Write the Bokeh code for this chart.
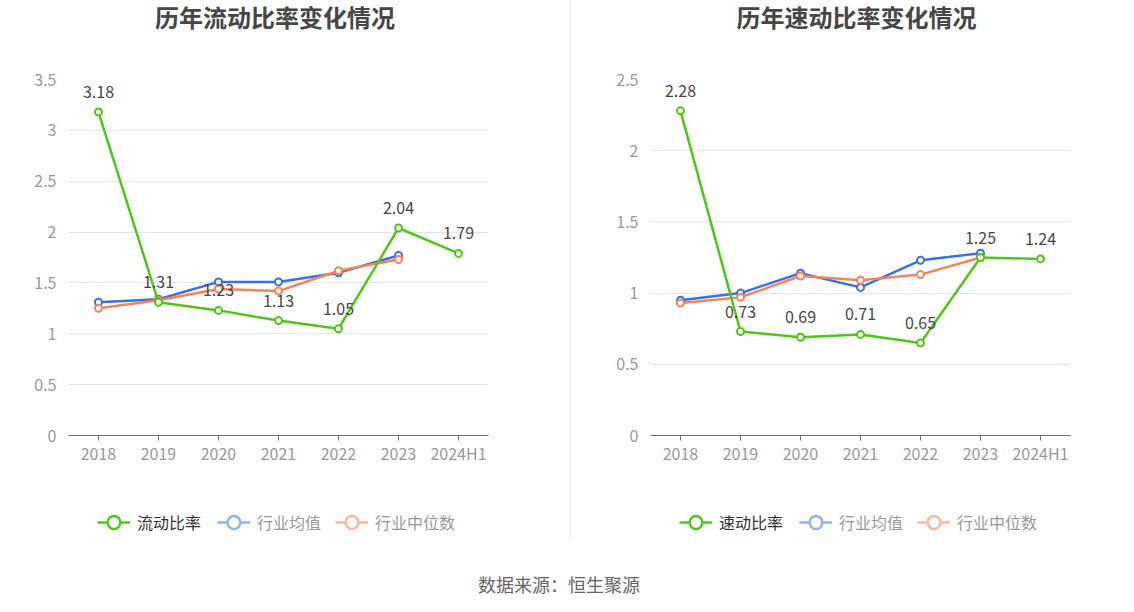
from bokeh.plotting import figure
from bokeh.models import (ColumnDataSource, FactorRange, Range1d, SingleIntervalTicker,
                          CustomJSTickFormatter, LabelSet, Legend, LegendItem, Div)
from bokeh.core.properties import value
from bokeh.layouts import row, column
from bokeh.embed import file_html
from bokeh.resources import INLINE

years = ["2018", "2019", "2020", "2021", "2022", "2023", "2024H1"]
years_ind = ["2018", "2019", "2020", "2021", "2022", "2023"]

current_ratio = [3.18, 1.31, 1.23, 1.13, 1.05, 2.04, 1.79]
current_ind_avg = [1.31, 1.34, 1.51, 1.51, 1.60, 1.77]
current_ind_med = [1.25, 1.33, 1.44, 1.42, 1.62, 1.73]

quick_ratio = [2.28, 0.73, 0.69, 0.71, 0.65, 1.25, 1.24]
quick_ind_avg = [0.95, 1.00, 1.14, 1.04, 1.23, 1.28]
quick_ind_med = [0.93, 0.97, 1.12, 1.09, 1.13, 1.25]

titles = ["历年流动比率变化情况", "历年速动比率变化情况"]
series_names = [["流动比率", "行业均值", "行业中位数"], ["速动比率", "行业均值", "行业中位数"]]
y_max = [3.5, 2.5]
footer_text = "数据来源：恒生聚源"

GREEN = "#52c41a"
BLUE = "#3b6fe2"
ORANGE = "#f5845a"
BLUE_LIGHT = "#92b2f2"
ORANGE_LIGHT = "#fab8a0"
FONT = "Noto Sans CJK SC"


def legend_style(**kw):
    base = dict(orientation="horizontal", glyph_width=33, glyph_height=32, label_standoff=7,
                spacing=14, padding=0, margin=0, border_line_color=None,
                background_fill_alpha=0, label_text_font=FONT, label_text_font_size="16px")
    base.update(kw)
    return base


def make_panel(title, names, main, avg, med, ymax, width, border_left, border_right,
               title_shift):
    title_div = Div(text=title, width=width, height=60, margin=(0, 0, 0, 0),
                    styles={"text-align": "center", "font-size": "24px", "font-weight": "bold",
                            "color": "#464646", "font-family": FONT, "line-height": "30px",
                            "position": "relative", "left": f"{title_shift}px", "top": "2px"})

    p = figure(x_range=FactorRange(*years, range_padding=0), y_range=Range1d(0, ymax),
               width=width, height=410, output_backend="svg", toolbar_location=None,
               min_border_left=border_left, min_border_right=border_right,
               min_border_top=19, min_border_bottom=35)
    p.outline_line_color = None
    p.background_fill_color = "white"
    p.border_fill_color = "white"

    p.xgrid.grid_line_color = None
    p.ygrid.grid_line_color = "#e0e6f1"
    p.ygrid.grid_line_width = 1

    p.yaxis.ticker = SingleIntervalTicker(interval=0.5)
    p.yaxis.formatter = CustomJSTickFormatter(code="return Number(tick.toFixed(2)).toString();")
    p.yaxis.axis_line_color = None
    p.yaxis.major_tick_line_color = None
    p.yaxis.minor_tick_line_color = None
    p.yaxis.major_label_text_color = "#999999"
    p.yaxis.major_label_text_font = FONT
    p.yaxis.major_label_text_font_size = "16px"
    p.yaxis.major_label_standoff = 6

    p.xaxis.axis_line_color = "#6e7079"
    p.xaxis.major_tick_line_color = "#6e7079"
    p.xaxis.major_tick_out = 5
    p.xaxis.major_tick_in = 0
    p.xaxis.minor_tick_line_color = None
    p.xaxis.major_label_text_color = "#999999"
    p.xaxis.major_label_text_font = FONT
    p.xaxis.major_label_text_font_size = "16px"
    p.xaxis.major_label_standoff = 0

    src_main = ColumnDataSource(dict(x=years, y=main, t=[f"{v:.2f}" for v in main]))
    src_avg = ColumnDataSource(dict(x=years_ind, y=avg))
    src_med = ColumnDataSource(dict(x=years_ind, y=med))

    p.line("x", "y", source=src_avg, line_color=BLUE, line_width=2.5)
    p.scatter("x", "y", source=src_avg, size=7, line_color=BLUE, line_width=2, fill_color="white")
    p.line("x", "y", source=src_med, line_color=ORANGE, line_width=2.5)
    p.scatter("x", "y", source=src_med, size=7, line_color=ORANGE, line_width=2, fill_color="white")
    p.line("x", "y", source=src_main, line_color=GREEN, line_width=2.5)
    p.scatter("x", "y", source=src_main, size=7, line_color=GREEN, line_width=2, fill_color="white")

    labels = LabelSet(x="x", y="y", text="t", source=src_main, y_offset=14,
                      text_align="center", text_baseline="bottom",
                      text_font=value(FONT), text_font_size="16px", text_color="#464646")
    p.add_layout(labels)

    # legend strip below the chart (its frame aligns with the chart frame)
    lf = figure(width=width, height=105, output_backend="svg", toolbar_location=None,
                x_range=Range1d(0, 1), y_range=Range1d(0, 1),
                x_axis_location=None, y_axis_location=None, min_border=0)
    lf.outline_line_color = None
    lf.grid.grid_line_color = None
    lf.background_fill_color = "white"
    lf.border_fill_color = "white"
    off = ColumnDataSource(dict(x=[-10], y=[-10]))
    lg = lf.line("x", "y", source=off, line_color=GREEN, line_width=2.5)
    sg = lf.scatter("x", "y", source=off, size=13, line_color=GREEN, line_width=2.5,
                    fill_color="white")
    lb = lf.line("x", "y", source=off, line_color=BLUE_LIGHT, line_width=2.5)
    sb = lf.scatter("x", "y", source=off, size=13, line_color=BLUE_LIGHT, line_width=2.5,
                    fill_color="white")
    lo = lf.line("x", "y", source=off, line_color=ORANGE_LIGHT, line_width=2.5)
    so = lf.scatter("x", "y", source=off, size=13, line_color=ORANGE_LIGHT, line_width=2.5,
                    fill_color="white")

    legend_main = Legend(items=[LegendItem(label=names[0], renderers=[lg, sg])],
                         location=(29, 37), **legend_style(label_text_color="#333333"))
    legend_ind = Legend(items=[LegendItem(label=names[1], renderers=[lb, sb]),
                               LegendItem(label=names[2], renderers=[lo, so])],
                        location=(149, 37), **legend_style(label_text_color="#999999"))
    lf.add_layout(legend_main, "center")
    lf.add_layout(legend_ind, "center")
    return column(title_div, p, lf, spacing=0)


panel1 = make_panel(titles[0], series_names[0], current_ratio, current_ind_avg, current_ind_med,
                    y_max[0], 570, 68, 82, -10)
sep = Div(width=1, height=540, margin=(0, 0, 0, 0), styles={"background-color": "#eeeeee"})
panel2 = make_panel(titles[1], series_names[1], quick_ratio, quick_ind_avg, quick_ind_med,
                    y_max[1], 555, 79, 56, 8)
footer = Div(text=footer_text, width=1118, height=26, margin=(0, 0, 0, 0),
             styles={"text-align": "center", "font-size": "18px", "color": "#666666",
                     "font-family": FONT, "position": "relative", "top": "-3px"})

layout = column(row(panel1, sep, panel2, spacing=0), footer, spacing=0)
open("out.html", "w").write(file_html(layout, INLINE))
